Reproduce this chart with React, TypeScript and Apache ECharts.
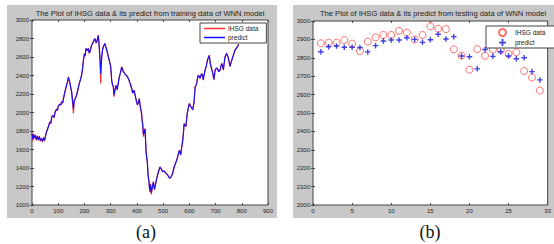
import React, { useEffect, useRef } from "react";
import * as echarts from "echarts";

// ---- Panel (a): training data (index, IHSG actual, WNN predict) ----
const trainIdx = [
  0, 3, 6, 9, 12, 16, 20, 24, 28, 32, 36, 40, 44, 48, 52, 56, 62, 68, 72, 75, 80, 84, 88, 94, 97, 100,
  106, 110, 113, 117, 120, 125, 130, 135, 139, 142, 145, 148, 151, 155, 158, 161, 165, 170, 175, 180,
  185, 189, 193, 196, 200, 203, 206, 210, 215, 218, 221, 226, 231, 236, 240, 244, 247, 250, 253, 257,
  260, 262, 264, 266, 269, 272, 275, 278, 282, 285, 288, 291, 295, 300, 302, 304, 307, 310, 313, 316,
  320, 325, 329, 333, 338, 342, 345, 348, 352, 355, 359, 363, 367, 371, 376, 380, 384, 389, 393, 397,
  402, 406, 409, 412, 415, 418, 420, 422, 425, 428, 431, 433, 435, 438, 440, 443, 446, 449, 452, 455,
  459, 463, 467, 472, 477, 482, 488, 493, 498, 504, 510, 516, 522, 526, 530, 536, 542, 547, 552, 557,
  562, 567, 571, 575, 578, 580, 584, 587, 590, 592, 596, 600, 605, 609, 613, 618, 622, 625, 628, 631,
  634, 638, 641, 644, 647, 650, 653, 657, 660, 665, 669, 673, 676, 680, 685, 689, 694, 698, 703, 707,
  712, 717, 723, 727, 730, 733, 736, 742, 745, 749, 752, 755, 758, 762, 765, 768, 771, 774, 778, 783, 788,
];
const trainActual = [
  1780, 1690, 1770, 1720, 1760, 1700, 1750, 1700, 1745, 1690, 1720, 1680, 1730, 1690, 1760, 1800, 1846, 1900, 1880, 1955, 1970, 1940, 2009, 2040, 2020, 2070,
  2090, 2080, 2117, 2100, 2153, 2220, 2279, 2330, 2387, 2340, 2315, 2260, 2225, 2100, 1991, 2135, 2150, 2189, 2250, 2315,
  2360, 2405, 2480, 2567, 2640, 2610, 2694, 2670, 2694, 2640, 2657, 2720, 2748, 2780, 2802, 2750, 2766, 2800, 2838, 2676,
  2500, 2315, 2500, 2603, 2680, 2712, 2730, 2748, 2700, 2676, 2640, 2603, 2560, 2495, 2420, 2333, 2300, 2279, 2171, 2240,
  2297, 2243, 2320, 2387, 2440, 2495, 2470, 2441, 2430, 2415, 2405, 2390, 2369, 2340, 2297, 2260, 2207, 2243, 2190, 2135,
  2081, 2110, 2153, 2080, 2027, 1980, 1900, 1883, 1739, 1800, 1829, 1700, 1559, 1500, 1451, 1300, 1250, 1140, 1230, 1115,
  1200, 1252, 1162, 1240, 1306, 1360, 1414, 1390, 1360, 1370, 1342, 1330, 1300, 1288, 1306, 1340, 1414, 1450, 1486, 1540,
  1594, 1540, 1630, 1703, 1800, 1883, 1860, 1847, 1940, 1991, 2050, 2099, 2063, 2050, 2027, 2117, 2279, 2290, 2315, 2370,
  2405, 2390, 2369, 2400, 2423, 2400, 2351, 2420, 2459, 2510, 2567, 2600, 2620, 2520, 2470, 2423, 2351, 2459, 2480, 2477,
  2440, 2459, 2532, 2500, 2459, 2540, 2603, 2640, 2620, 2586, 2540, 2495, 2530, 2567, 2600, 2621, 2650, 2676, 2690, 2712, 2740,
];
const trainPredict = [
  1770, 1710, 1760, 1730, 1750, 1710, 1745, 1705, 1740, 1700, 1720, 1690, 1725, 1700, 1750, 1795, 1840, 1895, 1885, 1950, 1965, 1950, 2000, 2035, 2025, 2065,
  2088, 2085, 2115, 2105, 2150, 2215, 2275, 2325, 2380, 2345, 2318, 2265, 2230, 2120, 2040, 2125, 2148, 2185, 2245, 2310,
  2355, 2400, 2475, 2560, 2635, 2615, 2690, 2672, 2690, 2645, 2655, 2715, 2745, 2775, 2798, 2755, 2765, 2795, 2830, 2690,
  2560, 2420, 2520, 2600, 2675, 2710, 2728, 2745, 2705, 2678, 2642, 2605, 2562, 2500, 2430, 2345, 2305, 2282, 2190, 2235,
  2292, 2248, 2315, 2382, 2436, 2490, 2472, 2443, 2432, 2416, 2405, 2391, 2370, 2342, 2300, 2262, 2212, 2240, 2192, 2140,
  2085, 2108, 2148, 2085, 2035, 1990, 1910, 1885, 1760, 1795, 1820, 1710, 1580, 1510, 1460, 1320, 1260, 1160, 1220, 1130,
  1195, 1248, 1170, 1235, 1300, 1355, 1408, 1392, 1362, 1368, 1344, 1331, 1302, 1290, 1304, 1336, 1408, 1448, 1484, 1536,
  1590, 1545, 1625, 1698, 1790, 1875, 1862, 1850, 1935, 1985, 2046, 2095, 2065, 2052, 2030, 2110, 2270, 2288, 2312, 2365,
  2400, 2391, 2370, 2398, 2420, 2402, 2356, 2416, 2455, 2506, 2562, 2596, 2615, 2530, 2475, 2428, 2360, 2452, 2478, 2476,
  2442, 2457, 2528, 2503, 2462, 2535, 2598, 2636, 2622, 2588, 2545, 2500, 2528, 2564, 2597, 2618, 2646, 2672, 2688, 2709, 2735,
];

// ---- Panel (b): testing data ----
const testX = [1, 2, 3, 4, 5, 6, 7, 8, 9, 10, 11, 12, 13, 14, 15, 16, 17, 18, 19, 20, 21, 22, 23, 24, 25, 26, 27, 28, 29];
const testActual = [
  2879, 2882, 2882, 2897, 2877, 2837, 2888, 2911, 2924, 2924, 2946, 2937, 2900, 2924, 2971,
  2958, 2956, 2846, 2812, 2735, 2847, 2811, 2845, 2842, 2821, 2830, 2728, 2693, 2622,
];
const testPredict = [
  2833, 2860, 2864, 2857, 2857, 2856, 2832, 2866, 2891, 2897, 2897, 2909, 2900, 2884, 2898,
  2928, 2902, 2915, 2810, 2806, 2740, 2845, 2808, 2833, 2810, 2795, 2800, 2725, 2680,
];

const titleA = "The Plot of IHSG data & its predict from training data of WNN model";
const titleB = "The Plot of IHSG data & its predict from testing data of WNN model";

const FONT = "Arial, 'Liberation Sans', sans-serif";
const PLUS = "path://M3,0h2v3h3v2h-3v3h-2v-3h-3v-2h3z";

function axisPair(gridIndex: number, min: number, max: number, interval: number, isX: boolean) {
  const common = {
    gridIndex,
    type: "value",
    min,
    max,
    interval,
    splitLine: { show: false },
    axisLine: { show: false },
    axisTick: { show: true, inside: true, length: 2, lineStyle: { color: "#444", width: 1 } },
  };
  return [
    {
      ...common,
      position: isX ? "bottom" : "left",
      axisLabel: {
        show: true, fontSize: 6, color: "#222", fontFamily: FONT, margin: 3,
        formatter: (v: number) => String(v),
      },
    },
    {
      ...common,
      position: isX ? "top" : "right",
      axisLabel: { show: false },
    },
  ];
}

export default function App() {
  const ref = useRef<HTMLDivElement>(null);
  useEffect(() => {
    if (!ref.current) return;
    const chart = echarts.init(ref.current, undefined, { renderer: "svg" });
    const trainA = trainIdx.map((x, i) => [x, trainActual[i]]);
    const trainP = trainIdx.map((x, i) => [x, trainPredict[i]]);
    const testA = testX.map((x, i) => [x, testActual[i]]);
    const testP = testX.map((x, i) => [x, testPredict[i]]);
    const option: any = {
      animation: false,
      backgroundColor: "#fff",
      graphic: {
        elements: [
          { type: "rect", z: -10, shape: { x: 7, y: 5, width: 270, height: 213 }, style: { fill: "#c8c8c8" } },
          { type: "rect", z: -10, shape: { x: 293, y: 5, width: 262, height: 213 }, style: { fill: "#c8c8c8" } },
          {
            type: "text", x: 150, y: 13,
            style: { text: titleA, fontSize: 7.6, fontFamily: FONT, fill: "#222", align: "center", verticalAlign: "middle" },
          },
          {
            type: "text", x: 433, y: 13,
            style: { text: titleB, fontSize: 7.6, fontFamily: FONT, fill: "#222", align: "center", verticalAlign: "middle" },
          },
          {
            type: "text", x: 146, y: 232,
            style: { text: "(a)", fontSize: 18, fontFamily: "'Liberation Serif', 'Times New Roman', serif", fill: "#111", align: "center", verticalAlign: "middle" },
          },
          {
            type: "text", x: 430, y: 232,
            style: { text: "(b)", fontSize: 18, fontFamily: "'Liberation Serif', 'Times New Roman', serif", fill: "#111", align: "center", verticalAlign: "middle" },
          },
        ],
      },
      grid: [
        { left: 32, top: 20, width: 236, height: 185, show: true, backgroundColor: "#fff", borderColor: "#444", borderWidth: 1 },
        { left: 313, top: 21, width: 239, height: 184, show: true, backgroundColor: "#fff", borderColor: "#444", borderWidth: 1 },
      ],
      xAxis: [...axisPair(0, 0, 900, 100, true), ...axisPair(1, 0, 30, 5, true)],
      yAxis: [...axisPair(0, 1000, 3000, 200, false), ...axisPair(1, 2000, 3000, 100, false)],
      legend: [
        {
          orient: "vertical", left: 200, top: 23,
          data: [{ name: "IHSG data", icon: "rect" }, { name: "predict", icon: "rect" }],
          itemWidth: 21, itemHeight: 1.5, itemGap: 2, padding: [2, 8, 2, 4],
          borderColor: "#444", borderWidth: 1, backgroundColor: "#fff",
          textStyle: { fontSize: 6.5, fontFamily: FONT, color: "#222", padding: [0, 0, 0, -2] },
        },
        {
          orient: "vertical", left: 486, top: 26,
          data: ["IHSG data ", "predict "],
          itemWidth: 7, itemHeight: 7, itemGap: 2, padding: [2, 12, 2, 12],
          borderColor: "#444", borderWidth: 1, backgroundColor: "#fff",
          textStyle: { fontSize: 6.5, fontFamily: FONT, color: "#222", padding: [0, 0, 0, 4] },
        },
      ],
      series: [
        {
          name: "IHSG data", type: "line", xAxisIndex: 0, yAxisIndex: 0, data: trainA,
          symbol: "none", showSymbol: false, lineStyle: { color: "#ff3030", width: 1.2 }, itemStyle: { color: "#ff3030" },
        },
        {
          name: "predict", type: "line", xAxisIndex: 0, yAxisIndex: 0, data: trainP,
          symbol: "none", showSymbol: false, lineStyle: { color: "#1010ff", width: 1.1 }, itemStyle: { color: "#1010ff" },
        },
        {
          name: "IHSG data ", type: "scatter", xAxisIndex: 2, yAxisIndex: 2, data: testA,
          symbol: "circle", symbolSize: 7,
          itemStyle: { color: "rgba(255,255,255,0)", borderColor: "#ff4a4a", borderWidth: 1 },
        },
        {
          name: "predict ", type: "scatter", xAxisIndex: 2, yAxisIndex: 2, data: testP,
          symbol: PLUS, symbolSize: 5.5, itemStyle: { color: "#1010dd" },
        },
      ],
    };
    chart.setOption(option);
    return () => chart.dispose();
  }, []);
  return <div ref={ref} style={{ position: "fixed", left: 0, top: 0, width: 554, height: 244 }} />;
}
